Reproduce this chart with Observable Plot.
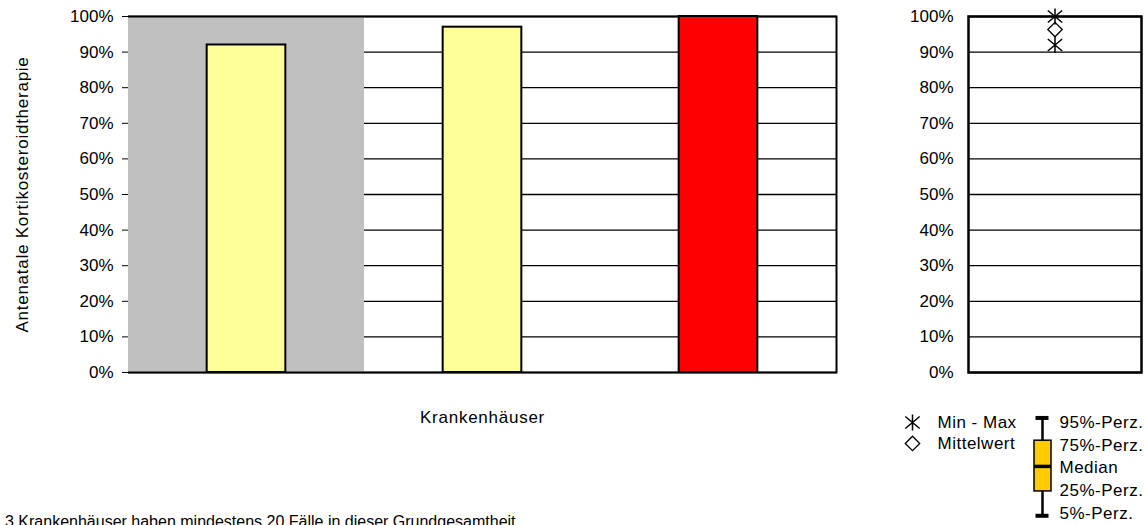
<!DOCTYPE html>
<html><head><meta charset="utf-8">
<script src="https://cdn.jsdelivr.net/npm/d3@7"></script>
<script src="https://cdn.jsdelivr.net/npm/@observablehq/plot@0.6"></script>
<style>
body{margin:0;background:#fff}
#root{position:relative;width:1146px;height:525px;overflow:hidden;font-family:"Liberation Sans",Arial,sans-serif;color:#000;background:#fff}
.panel{position:absolute}
#caption{position:absolute;left:5px;top:513px;font-size:16px;line-height:17px;white-space:nowrap}
.wide{letter-spacing:0.75px}
.legendText{letter-spacing:0.5px}
</style></head><body>
<div id="root">
 <div id="main" class="panel" style="left:0;top:0"></div>
 <div id="side" class="panel" style="left:880px;top:0"></div>
 <div id="legend" class="panel" style="left:890px;top:405px"></div>
 <div id="caption"></div>
</div>
<script>
// ---- data ----
const hospitals = ["Krankenhaus A", "Krankenhaus B", "Krankenhaus C"];
const rates = [0.92, 0.97, 1.00];
const barColors = ["#ffff99", "#ffff99", "#ff0000"];
const highlightedHospital = ["Krankenhaus A"];
const yTicks = [0, 0.1, 0.2, 0.3, 0.4, 0.5, 0.6, 0.7, 0.8, 0.9, 1.0];
const yTitle = "Antenatale Kortikosteroidtherapie";
const xTitle = "Krankenhäuser";
const captionText = "3 Krankenhäuser haben mindestens 20 Fälle in dieser Grundgesamtheit";
const summaryLabels = ["Min - Max", "Mittelwert"];
const boxLabels = ["95%-Perz.", "75%-Perz.", "Median", "25%-Perz.", "5%-Perz."];

// ---- helpers ----
const FONT = "'Liberation Sans', Arial, sans-serif";
const pct = d3.format(".0%");
const asterisk = {
  draw(ctx, size) {
    const r = Math.sqrt(size / Math.PI);
    ctx.moveTo(0, -r); ctx.lineTo(0, r);
    ctx.moveTo(-0.9 * r, -0.75 * r); ctx.lineTo(0.9 * r, 0.75 * r);
    ctx.moveTo(-0.9 * r, 0.75 * r); ctx.lineTo(0.9 * r, -0.75 * r);
  }
};
const baseStyle = {fontFamily: FONT, fontSize: "17px", color: "#000", background: "transparent", overflow: "visible"};

// ---- main bar chart ----
const mainW = 860, mainH = 440, mL = 128, mR = 24, mT = 16, mB = 68;
const bandW = (mainW - mL - mR) / hospitals.length;
const bars = hospitals.map((h, i) => ({h, v: rates[i], c: barColors[i]}));

const main = Plot.plot({
  width: mainW, height: mainH,
  marginLeft: mL, marginRight: mR, marginTop: mT, marginBottom: mB,
  style: baseStyle,
  x: {domain: hospitals, padding: 0, axis: null},
  y: {domain: [0, 1]},
  color: {type: "identity"},
  marks: [
    Plot.ruleY(yTicks, {stroke: "#000", strokeWidth: 1.3}),
    Plot.barY(highlightedHospital, {x: d => d, y1: 0, y2: 1, fill: "#c0c0c0"}),
    Plot.ruleY([0, 1], {stroke: "#000", strokeWidth: 2}),
    Plot.frame({anchor: "right", stroke: "#000", strokeWidth: 2}),
    Plot.barY(bars, {x: "h", y: "v", fill: "c", stroke: "#000", strokeWidth: 2,
      insetLeft: bandW / 3, insetRight: bandW / 3}),
    Plot.axisY({ticks: yTicks, tickFormat: pct, tickSize: 6, tickPadding: 9, label: null, fontSize: 17}),
    Plot.text([xTitle], {text: d => d, frameAnchor: "bottom", dy: 50, fontSize: 17, className: "wide"}),
    Plot.text([yTitle], {text: d => d, frameAnchor: "left", textAnchor: "middle", rotate: -90, dx: -106, fontSize: 17, className: "wide"})
  ]
});
document.getElementById("main").append(main);

// ---- summary panel ----
const side = Plot.plot({
  width: 266, height: 380,
  marginLeft: 88, marginRight: 5, marginTop: 16, marginBottom: 8,
  style: baseStyle,
  y: {domain: [0, 1]},
  marks: [
    Plot.ruleY(yTicks, {stroke: "#000", strokeWidth: 1.3}),
    Plot.frame({stroke: "#000", strokeWidth: 2.5}),
    Plot.axisY({ticks: yTicks, tickFormat: pct, tickSize: 0, tickPadding: 15, label: null, fontSize: 17}),
    Plot.dot([d3.min(rates), d3.max(rates)], {y: d => d, symbol: asterisk, r: 8, stroke: "#000", strokeWidth: 1.5, fill: "none"}),
    Plot.dot([d3.mean(rates)], {y: d => d, symbol: "diamond2", r: 6.5, stroke: "#000", strokeWidth: 1.3, fill: "none"})
  ]
});
document.getElementById("side").append(side);

// ---- legend ----
const legend = Plot.plot({
  width: 256, height: 120,
  margin: 0,
  style: baseStyle,
  x: {domain: [0, 256], range: [0, 256], axis: null},
  y: {domain: [0, 4], range: [17, 108], axis: null},
  marks: [
    Plot.dot([summaryLabels[0]], {x: 22, y: 0, symbol: asterisk, r: 8, stroke: "#000", strokeWidth: 1.5, fill: "none"}),
    Plot.dot([summaryLabels[1]], {x: 22, y: 0.92, symbol: "diamond2", r: 6.5, stroke: "#000", strokeWidth: 1.3, fill: "none"}),
    Plot.text(summaryLabels, {x: 47, y: (d, i) => i * 0.92, text: d => d, textAnchor: "start", fontSize: 17, className: "legendText"}),
    Plot.ruleX([152], {y1: -0.2, y2: 4.1, stroke: "#000", strokeWidth: 2.5}),
    Plot.ruleY([-0.2, 4.1], {x1: 145.5, x2: 158.5, stroke: "#000", strokeWidth: 4}),
    Plot.rect([boxLabels[1]], {x1: 144, x2: 161, y1: 0.8, y2: 3.03, fill: "#ffcc00", stroke: "#000", strokeWidth: 1.5}),
    Plot.ruleY([1.93], {x1: 144, x2: 161, stroke: "#000", strokeWidth: 3.5}),
    Plot.text(boxLabels, {x: 169, y: (d, i) => i, text: d => d, textAnchor: "start", fontSize: 17, className: "legendText"})
  ]
});
document.getElementById("legend").append(legend);

document.getElementById("caption").textContent = captionText;
</script>
</body></html>
